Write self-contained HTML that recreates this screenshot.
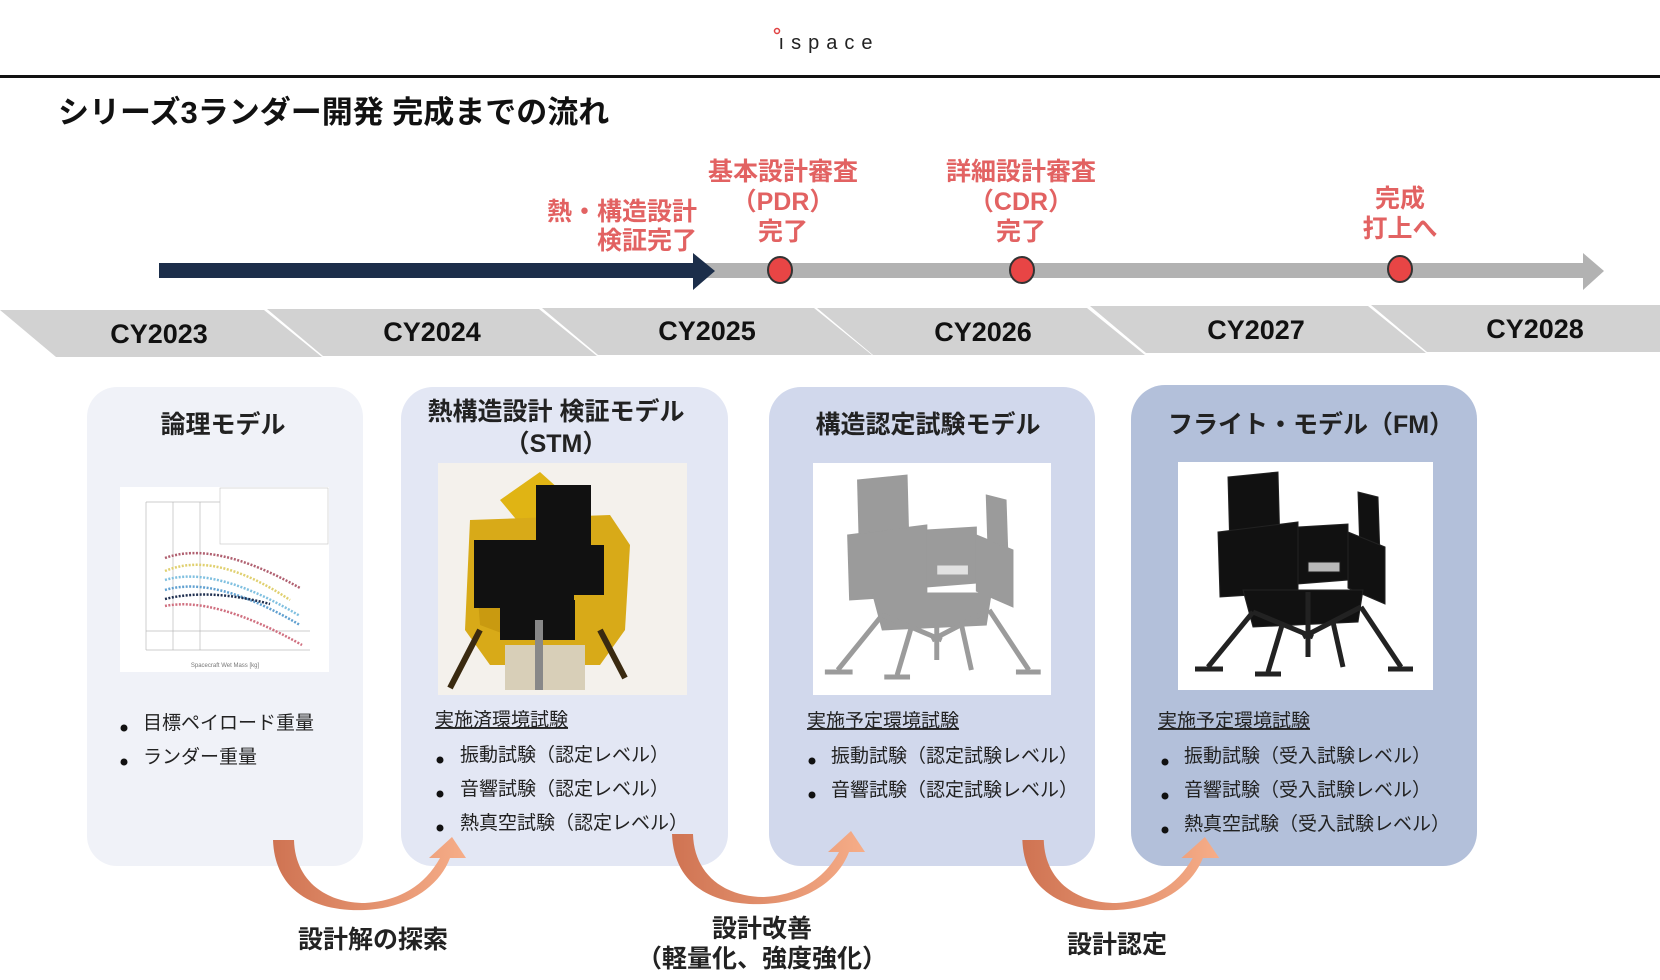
<!DOCTYPE html>
<html><head><meta charset="utf-8"><style>
html,body{margin:0;padding:0;background:#fff;}
svg{display:block;}
text{font-family:"Liberation Sans","Noto Sans CJK JP",sans-serif;}
</style></head><body>
<svg width="1660" height="980" viewBox="0 0 1660 980" xmlns="http://www.w3.org/2000/svg">
<defs>
<linearGradient id="og" x1="0" y1="0" x2="1" y2="0">
<stop offset="0" stop-color="#cf7352"/><stop offset="1" stop-color="#f6ad88"/>
</linearGradient>
<g id="lander">
<polygon points="45,15 95,10 97,85 47,90"/>
<polygon points="175,30 195,35 197,95 177,90"/>
<polygon points="35,70 115,60 115,130 37,135"/>
<polygon points="115,65 165,62 165,118 115,122"/>
<polygon points="165,70 202,85 202,142 165,126"/>
<polygon points="60,128 180,128 175,160 70,165"/>
<rect x="125" y="100" width="32" height="10" fill="#fff" opacity="0.7"/>
<g stroke-width="5" fill="none">
<line x1="70" y1="150" x2="25" y2="205"/>
<line x1="100" y1="160" x2="85" y2="210"/>
<line x1="150" y1="160" x2="160" y2="205"/>
<line x1="178" y1="145" x2="218" y2="205"/>
<line x1="70" y1="150" x2="130" y2="175"/>
<line x1="178" y1="145" x2="120" y2="175"/>
<line x1="125" y1="130" x2="125" y2="195"/>
<line x1="12" y1="207" x2="40" y2="207"/>
<line x1="72" y1="212" x2="98" y2="212"/>
<line x1="205" y1="207" x2="230" y2="207"/>
</g>
</g>
<path id="carr" d="M273,840 C275,895 320,912 365,910 C410,908 440,885 450,858 L466,858 L452,837 L429,858 L440,858 C425,885 400,901 365,903 C325,903 295,880 294,840 Z"/>
</defs>

<!-- header -->
<text x="829" y="49" text-anchor="middle" font-size="20" fill="#222" letter-spacing="7">ıspace</text>
<circle cx="777" cy="31" r="2.5" fill="none" stroke="#e04040" stroke-width="1.5"/>
<rect x="0" y="75" width="1660" height="3" fill="#111"/>
<text x="58" y="123" font-size="31" font-weight="bold" fill="#111">シリーズ3ランダー開発 完成までの流れ</text>

<!-- red labels -->
<g font-size="25" font-weight="bold" fill="#e26262" text-anchor="middle">
<text x="697" y="220" text-anchor="end">熱・構造設計</text>
<text x="697" y="249" text-anchor="end">検証完了</text>
<text x="783" y="180">基本設計審査</text>
<text x="783" y="210">（PDR）</text>
<text x="783" y="240">完了</text>
<text x="1021" y="180">詳細設計審査</text>
<text x="1021" y="210">（CDR）</text>
<text x="1021" y="240">完了</text>
<text x="1400" y="207">完成</text>
<text x="1400" y="237">打上へ</text>
</g>

<!-- timeline -->
<rect x="693" y="263" width="892" height="15" fill="#b2b2b2"/>
<polygon points="1583,253 1604,271 1583,290" fill="#b2b2b2"/>
<rect x="159" y="263" width="536" height="15" fill="#1c2e4a"/>
<polygon points="693,253 715,271 693,290" fill="#1c2e4a"/>
<g fill="#e84545" stroke="#333" stroke-width="2">
<ellipse cx="780" cy="270" rx="12" ry="13"/>
<ellipse cx="1022" cy="270" rx="12" ry="13"/>
<ellipse cx="1400" cy="269" rx="12" ry="13"/>
</g>

<!-- year band -->
<g fill="#d2d2d2">
<polygon points="0,310 264,310 322,357 56,357"/>
<polygon points="267,309 539,309 597,356 323,356"/>
<polygon points="542,308 814,308 872,355 598,355"/>
<polygon points="817,308 1087,308 1145,355 873,355"/>
<polygon points="1090,306 1368,306 1426,353 1146,353"/>
<polygon points="1371,305 1660,305 1660,352 1427,352"/>
</g>
<g font-size="27" font-weight="bold" fill="#111" text-anchor="middle">
<text x="159" y="343">CY2023</text>
<text x="432" y="341">CY2024</text>
<text x="707" y="340">CY2025</text>
<text x="983" y="341">CY2026</text>
<text x="1256" y="339">CY2027</text>
<text x="1535" y="338">CY2028</text>
</g>

<!-- cards -->
<rect x="87" y="387" width="276" height="479" rx="30" fill="#f0f2f8"/>
<rect x="401" y="387" width="327" height="479" rx="32" fill="#e3e7f4"/>
<rect x="769" y="387" width="326" height="479" rx="32" fill="#d1d8ec"/>
<rect x="1131" y="385" width="346" height="481" rx="34" fill="#b3c0da"/>

<g font-size="25" font-weight="bold" fill="#222" text-anchor="middle">
<text x="223" y="433">論理モデル</text>
<text x="556" y="420">熱構造設計 検証モデル</text>
<text x="556" y="452">（STM）</text>
<text x="928" y="433">構造認定試験モデル</text>
<text x="1311" y="433">フライト・モデル（FM）</text>
</g>

<!-- chart -->
<rect x="120" y="487" width="209" height="185" fill="#fff"/>
<g stroke="#bbb" stroke-width="0.7" fill="none">
<line x1="146" y1="502" x2="146" y2="650"/><line x1="146" y1="650" x2="310" y2="650"/>
<line x1="173" y1="502" x2="173" y2="650"/><line x1="200" y1="502" x2="200" y2="650"/>
<line x1="146" y1="502" x2="220" y2="502"/><line x1="146" y1="631" x2="310" y2="631"/>
<rect x="220" y="488" width="108" height="56" stroke="#ccc"/>
</g>
<g fill="none" stroke-width="2.5" stroke-dasharray="2 1.5">
<path d="M165,558 Q215,540 300,588" stroke="#b06070"/>
<path d="M165,571 Q215,550 290,600" stroke="#e0d070"/>
<path d="M165,580 Q215,565 300,616" stroke="#80c0e0"/>
<path d="M165,590 Q215,575 300,625" stroke="#60a0d0"/>
<path d="M165,599 Q210,588 270,604" stroke="#203050"/>
<path d="M165,606 Q215,596 302,645" stroke="#d07080"/>
</g>
<text x="225" y="667" font-size="6" fill="#777" text-anchor="middle">Spacecraft Wet Mass [kg]</text>

<!-- STM image -->
<rect x="438" y="463" width="249" height="232" fill="#f4f1ec"/>
<polygon points="500,500 540,472 560,490 550,560" fill="#e0b414"/>
<polygon points="470,520 610,515 630,545 625,630 600,665 490,665 465,630" fill="#d8aa18"/>
<polygon points="475,560 480,625 520,640 530,600" fill="#c99a10"/>
<rect x="536" y="485" width="55" height="60" fill="#111"/>
<rect x="474" y="540" width="100" height="68" fill="#111"/>
<rect x="500" y="600" width="75" height="40" fill="#111"/>
<rect x="570" y="545" width="34" height="50" fill="#111"/>
<g stroke="#3a2a10" stroke-width="6" fill="none">
<line x1="480" y1="630" x2="450" y2="688"/>
<line x1="600" y1="630" x2="625" y2="678"/>
</g>
<rect x="505" y="645" width="80" height="45" fill="#d8cfb8"/>
<rect x="535" y="620" width="8" height="70" fill="#888"/>

<!-- card3 lander -->
<rect x="813" y="463" width="238" height="232" fill="#fff"/>
<g transform="translate(813,465) scale(0.99,1)" fill="#8a8a8a" stroke="#8a8a8a" opacity="0.85">
<use href="#lander"/>
</g>
<!-- card4 lander -->
<rect x="1178" y="462" width="255" height="228" fill="#fff"/>
<g transform="translate(1183,462)" fill="#111" stroke="#222">
<use href="#lander"/>
</g>

<!-- bullets -->
<g font-size="19" fill="#222">
<text x="143" y="729">目標ペイロード重量</text>
<text x="143" y="763">ランダー重量</text>
<text x="435" y="726" text-decoration="underline">実施済環境試験</text>
<text x="460" y="761">振動試験（認定レベル）</text>
<text x="460" y="795">音響試験（認定レベル）</text>
<text x="460" y="829">熱真空試験（認定レベル）</text>
<text x="807" y="727" text-decoration="underline">実施予定環境試験</text>
<text x="831" y="762">振動試験（認定試験レベル）</text>
<text x="831" y="796">音響試験（認定試験レベル）</text>
<text x="1158" y="727" text-decoration="underline">実施予定環境試験</text>
<text x="1184" y="762">振動試験（受入試験レベル）</text>
<text x="1184" y="796">音響試験（受入試験レベル）</text>
<text x="1184" y="830">熱真空試験（受入試験レベル）</text>
</g>
<g fill="#111">
<circle cx="124" cy="728" r="3.5"/><circle cx="124" cy="762" r="3.5"/>
<circle cx="440" cy="760" r="3.5"/><circle cx="440" cy="794" r="3.5"/><circle cx="440" cy="828" r="3.5"/>
<circle cx="812" cy="761" r="3.5"/><circle cx="812" cy="795" r="3.5"/>
<circle cx="1165" cy="762" r="3.5"/><circle cx="1165" cy="796" r="3.5"/><circle cx="1165" cy="830" r="3.5"/>
</g>

<!-- curved arrows -->
<use href="#carr" fill="url(#og)"/>
<use href="#carr" fill="url(#og)" transform="translate(399,-6)"/>
<use href="#carr" fill="url(#og)" transform="translate(750,0) scale(1.02,1) translate(-6,0)"/>

<g font-size="25" font-weight="bold" fill="#222" text-anchor="middle">
<text x="373" y="948">設計解の探索</text>
<text x="762" y="937">設計改善</text>
<text x="762" y="967">（軽量化、強度強化）</text>
<text x="1117" y="953">設計認定</text>
</g>
</svg>
</body></html>
